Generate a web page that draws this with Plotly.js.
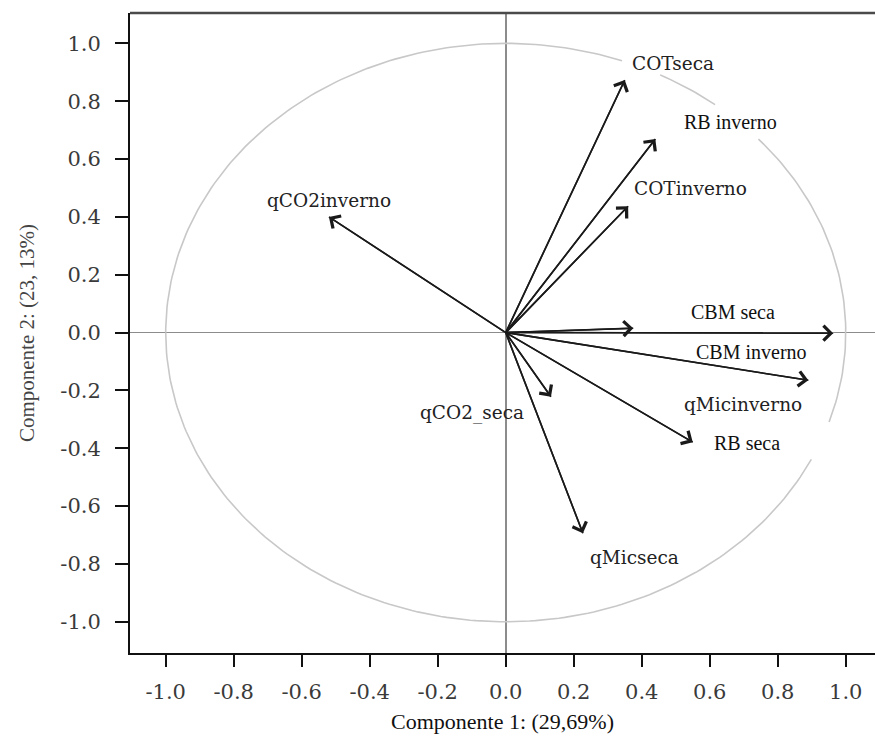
<!DOCTYPE html>
<html>
<head>
<meta charset="utf-8">
<script src="https://cdn.plot.ly/plotly-3.0.1.min.js"></script>
<style>html,body{margin:0;padding:0;background:#fff}#chart{width:875px;height:738px}</style>
</head>
<body>
<div id="chart"></div>
<script>
// Variables (loadings on component 1 and 2)
const variables = ['COTseca','RB inverno','COTinverno','qCO2inverno','CBM seca','CBM inverno','qMicinverno','RB seca','qCO2_seca','qMicseca'];
const comp1 = [0.35, 0.44, 0.36, -0.52, 0.963, 0.89, 0.375, 0.55, 0.133, 0.227];
const comp2 = [0.873, 0.669, 0.437, 0.40, -0.002, -0.165, 0.015, -0.379, -0.222, -0.694];

// Label placement (layout only)
const labelX = [0.492, 0.66, 0.543, -0.52, 0.668, 0.724, 0.699, 0.709, -0.099, 0.38];
const labelY = [0.93, 0.728, 0.499, 0.458, 0.071, -0.067, -0.25, -0.382, -0.279, -0.777];
const labelFont = ['DejaVu Serif','Liberation Serif','DejaVu Serif','DejaVu Serif','Liberation Serif','Liberation Serif','DejaVu Serif','Liberation Serif','DejaVu Serif','DejaVu Serif'];

// Tick values
const tickVals = [-1.0,-0.8,-0.6,-0.4,-0.2,0.0,0.2,0.4,0.6,0.8,1.0];
const tickText = ['-1.0','-0.8','-0.6','-0.4','-0.2','0.0','0.2','0.4','0.6','0.8','1.0'];

// Unit correlation circle, with the gaps where labels interrupt it (degrees)
const circleGaps = [[63.5,70],[42,52],[-26,-18]];
const cx = [], cy = [];
for (let a = -180; a <= 180; a += 1) {
  const inGap = circleGaps.some(g => a > g[0] && a < g[1]);
  if (inGap) { if (cx.length && cx[cx.length-1] !== null) { cx.push(null); cy.push(null); } continue; }
  cx.push(Math.cos(a*Math.PI/180)); cy.push(Math.sin(a*Math.PI/180));
}

const shaftX = [], shaftY = [];
comp1.forEach((v,i) => { shaftX.push(0, v, null); shaftY.push(0, comp2[i], null); });

const traces = [
  {x: cx, y: cy, mode: 'lines', line: {color: '#c8c8c8', width: 1.6}, hoverinfo: 'skip', showlegend: false, connectgaps: false},
  {x: shaftX, y: shaftY, mode: 'lines', line: {color: '#1a1a1a', width: 1.6}, hoverinfo: 'skip', showlegend: false}
];

const annotations = [];
comp1.forEach((v,i) => {
  annotations.push({x: v, y: comp2[i], xref: 'x', yref: 'y', ax: 0, ay: 0, axref: 'x', ayref: 'y',
    text: '', showarrow: true, arrowhead: 4, arrowsize: 1.8, arrowwidth: 1.6, arrowcolor: '#1a1a1a', standoff: 0});
});
variables.forEach((name,i) => {
  const times = labelFont[i] === 'Liberation Serif';
  annotations.push({x: labelX[i], y: labelY[i], xref: 'x', yref: 'y', text: name, showarrow: false,
    font: {family: labelFont[i], size: times ? 20 : 18.5, color: times ? '#111' : '#222'}});
});

const layout = {
  width: 875, height: 738,
  margin: {l: 130, r: 0, t: 13, b: 85},
  paper_bgcolor: '#fff', plot_bgcolor: '#fff',
  showlegend: false,
  xaxis: {
    range: [-1.105, 1.086], tickvals: tickVals, ticktext: tickText,
    showgrid: false, zeroline: true, zerolinecolor: '#8c8c8c', zerolinewidth: 1.6,
    showline: true, linecolor: '#111', linewidth: 2,
    ticks: 'outside', ticklen: 12, tickwidth: 2, tickcolor: '#111',
    ticklabelstandoff: 7,
    tickfont: {family: 'DejaVu Serif', size: 21, color: '#3a3a3a'},
    title: {text: 'Componente 1: (29,69%)', font: {family: 'Liberation Serif', size: 22, color: '#111'}, standoff: 10}
  },
  yaxis: {
    range: [-1.108, 1.105], tickvals: tickVals, ticktext: tickText,
    showgrid: false, zeroline: true, zerolinecolor: '#8c8c8c', zerolinewidth: 1.6,
    showline: true, linecolor: '#111', linewidth: 2,
    ticks: 'outside', ticklen: 13, tickwidth: 2, tickcolor: '#111',
    ticklabelstandoff: 10,
    tickfont: {family: 'DejaVu Serif', size: 21, color: '#3a3a3a'},
    title: {text: 'Componente 2: (23, 13%)', font: {family: 'Liberation Serif', size: 21, color: '#444'}, standoff: 20}
  },
  shapes: [
    {type: 'line', xref: 'paper', yref: 'paper', x0: 0, x1: 1, y0: 1, y1: 1, line: {color: '#4a4a4a', width: 2.5}}
  ],
  annotations: annotations
};

Plotly.newPlot('chart', traces, layout, {displayModeBar: false, staticPlot: true});
</script>
</body>
</html>
